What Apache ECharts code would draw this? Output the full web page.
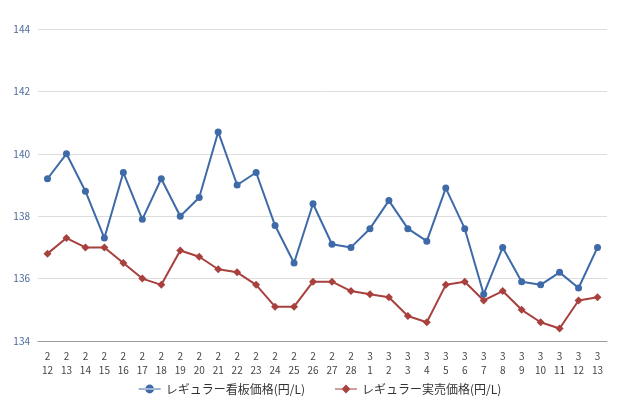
<!DOCTYPE html>
<html><head><meta charset="utf-8">
<script src="https://cdn.jsdelivr.net/npm/echarts@6/dist/echarts.min.js"></script>
<style>html,body{margin:0;padding:0;background:#fff}#main{width:640px;height:400px}</style>
</head><body><div id="main"></div>
<script>
var months = [2,2,2,2,2,2,2,2,2,2,2,2,2,2,2,2,2,3,3,3,3,3,3,3,3,3,3,3,3,3];
var days = [12,13,14,15,16,17,18,19,20,21,22,23,24,25,26,27,28,1,2,3,4,5,6,7,8,9,10,11,12,13];
var signPrice = [139.2,140.0,138.8,137.3,139.4,137.9,139.2,138.0,138.6,140.7,139.0,139.4,137.7,136.5,138.4,137.1,137.0,137.6,138.5,137.6,137.2,138.9,137.6,135.5,137.0,135.9,135.8,136.2,135.7,137.0];
var salePrice = [136.8,137.3,137.0,137.0,136.5,136.0,135.8,136.9,136.7,136.3,136.2,135.8,135.1,135.1,135.9,135.9,135.6,135.5,135.4,134.8,134.6,135.8,135.9,135.3,135.6,135.0,134.6,134.4,135.3,135.4];
var seriesNames = ['レギュラー看板価格(円/L)', 'レギュラー実売価格(円/L)'];

var categories = [];
for (var i = 0; i < months.length; i++) categories.push(months[i] + '\n' + days[i]);

var font = '"Noto Sans CJK JP", sans-serif';
var myChart = echarts.init(document.getElementById('main'));
myChart.setOption({
	backgroundColor : '#fff',
	animation : false,
	textStyle : { fontFamily : font },
	grid : { left : 38, right : 33, top : 29, bottom : 59 },
	legend : {
		bottom : 0,
		itemGap : 30,
		textStyle : { color : '#333', fontSize : 12 },
		data : [
			{ name : seriesNames[0], icon : 'path://M0,5L20,5L20,6L0,6Z M6,5.5A4,4 0 1 0 14,5.5A4,4 0 1 0 6,5.5Z' },
			{ name : seriesNames[1], icon : 'path://M0,5L20,5L20,6L0,6Z M10,1.5L14,5.5L10,9.5L6,5.5Z' }
		],
		itemWidth : 22, itemHeight : 10
	},
	xAxis : {
		type : 'category',
		data : categories,
		axisLine : { lineStyle : { color : '#999' } },
		axisTick : { show : false },
		axisLabel : { interval : 0, color : '#444', fontSize : 10, lineHeight : 14 }
	},
	yAxis : {
		type : 'value',
		min : 134, max : 144, interval : 2,
		axisLine : { show : false },
		axisTick : { show : false },
		axisLabel : { color : '#4a6a9a', fontSize : 10 },
		splitLine : { lineStyle : { color : '#ddd' } }
	},
	series : [{
		name : seriesNames[0],
		type : 'line',
		data : signPrice,
		symbol : 'circle',
		symbolSize : 7,
		color : '#3e6aa8',
		lineStyle : { width : 2 }
	}, {
		name : seriesNames[1],
		type : 'line',
		data : salePrice,
		symbol : 'diamond',
		symbolSize : 8,
		color : '#a8403e',
		lineStyle : { width : 2 }
	}]
});
</script></body></html>
